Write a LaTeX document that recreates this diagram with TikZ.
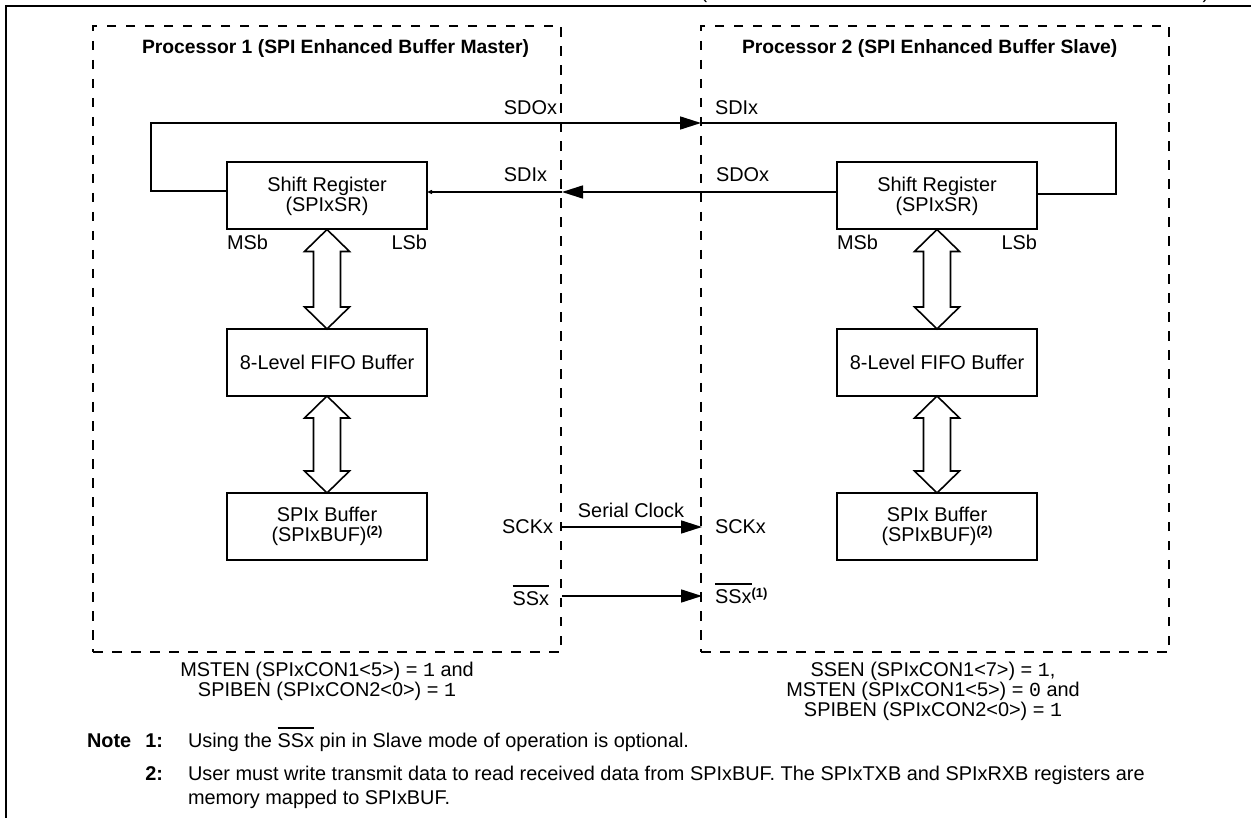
\documentclass[tikz,border=0pt]{standalone}
\usepackage{fontspec}
\setmainfont{Liberation Sans}
\setmonofont{Liberation Mono}
\usetikzlibrary{arrows.meta}
\newcommand\dblarrow[2]{%
  \draw[dbl] (#1) -- ([shift={(22.5,22)}]#1) -- ([shift={(13.5,22)}]#1)
    -- ([shift={(13.5,-22)}]#2) -- ([shift={(22.5,-22)}]#2) -- (#2)
    -- ([shift={(-22.5,-22)}]#2) -- ([shift={(-13.5,-22)}]#2)
    -- ([shift={(-13.5,22)}]#1) -- ([shift={(-22.5,22)}]#1) -- cycle;}
\newcommand\ovbar[1]{\leavevmode\vbox{\hrule height 1.6pt\kern 4.2pt\hbox{#1}}}
\newcommand\supnote[1]{\raisebox{6pt}{\fontsize{13}{13}\selectfont\bfseries(#1)}}
\begin{document}
\begin{tikzpicture}[x=1pt,y=-1pt,
  every node/.style={inner sep=0pt,outer sep=0pt,font=\fontsize{19.9}{20}\selectfont},
  frame/.style={line width=2pt},
  procbox/.style={draw,line width=1.8pt,dash pattern=on 9.5pt off 9.5pt,minimum width=468pt,minimum height=626pt},
  blk/.style={draw,line width=2pt,minimum width=200pt,minimum height=67pt,align=center},
  conn/.style={line width=1.6pt},
  bigtip/.style={-{Triangle[length=21pt,width=13pt]}},
  smalltip/.style={-{Triangle[length=5pt,width=4pt]}},
  dbl/.style={draw,line width=1.6pt,fill=white,line join=miter},
  ttl/.style={font=\fontsize{19.3}{20}\selectfont\bfseries},
  nb/.style={font=\fontsize{19.9}{20}\selectfont\bfseries}]
\useasboundingbox (0,0) rectangle (1251,818);
\clip (0,0) rectangle (1251,818);
% partial title above the frame
\node[anchor=south] (tpl) at (704,3) {(};
\node[anchor=south] (tpr) at (1206,3) {)};
% outer frame
\draw[frame] (6,818) -- (6,6) -- (1251,6);
% processor boxes
\node[procbox] (p1) at (327,339) {};
\node[procbox] (p2) at (935,339) {};
\node[ttl,anchor=base west] (t1) at (142,54) {Processor 1 (SPI Enhanced Buffer Master)};
\node[ttl,anchor=base west] (t2) at (742,54) {Processor 2 (SPI Enhanced Buffer Slave)};
% blocks
\node[blk] (sr1) at (327,196) {Shift Register\\(SPIxSR)};
\node[blk] (fifo1) at (327,362.5) {8-Level FIFO Buffer};
\node[blk] (buf1) at (327,526.5) {SPIx Buffer\\(SPIxBUF)\supnote{2}};
\node[blk] (sr2) at (937,196) {Shift Register\\(SPIxSR)};
\node[blk] (fifo2) at (937,362.5) {8-Level FIFO Buffer};
\node[blk] (buf2) at (937,526.5) {SPIx Buffer\\(SPIxBUF)\supnote{2}};
\node[anchor=base west] (msb1) at (227,250) {MSb};
\node[anchor=base east] (lsb1) at (427,250) {LSb};
\node[anchor=base west] (msb2) at (837,250) {MSb};
\node[anchor=base east] (lsb2) at (1037,250) {LSb};
% double arrows
\dblarrow{sr1.south}{fifo1.north}
\dblarrow{fifo1.south}{buf1.north}
\dblarrow{sr2.south}{fifo2.north}
\dblarrow{fifo2.south}{buf2.north}
% SDO -> SDI loop
\coordinate (tl) at (151,123);
\coordinate (tr) at (1116,123);
\draw[conn,bigtip] ([yshift=5pt]sr1.west) -| (tl) -- (tl -| p2.west);
\draw[conn] (tl -| p2.west) -- (tr) |- ([yshift=2pt]sr2.east);
\node[anchor=base east] (sdo1) at (557,115) {SDOx};
\node[anchor=base west] (sdi2) at (715,115) {SDIx};
% SDO slave -> SDI master
\coordinate (mi) at (562,192);
\draw[conn,bigtip] ([yshift=4pt]sr2.west) -- (mi);
\draw[conn,smalltip] (mi) -- ([yshift=4pt]sr1.east);
\node[anchor=base east] (sdi1) at (547,182) {SDIx};
\node[anchor=base west] (sdo2) at (716,182) {SDOx};
% serial clock
\coordinate (ckl) at (562,527);
\coordinate (ckr) at (702,527);
\draw[conn,bigtip] (ckl) -- (ckr);
\node[anchor=base] (sclk) at (631,517) {Serial Clock};
\node[anchor=base east] (sck1) at (553,533) {SCKx};
\node[anchor=base west] (sck2) at (715,533) {SCKx};
% slave select
\coordinate (ssl) at (562,596);
\coordinate (ssr) at (702,596);
\draw[conn,bigtip] (ssl) -- (ssr);
\node[anchor=base east] (ss1) at (549,605) {\ovbar{SSx}};
\node[anchor=base west] (ss2) at (715,603) {\ovbar{SSx}\supnote{1}};
% conditions
\node[anchor=base] (c1a) at (327,676) {MSTEN (SPIxCON1<5>) = \texttt{1} and};
\node[anchor=base] (c1b) at (327,696) {SPIBEN (SPIxCON2<0>) = \texttt{1}};
\node[anchor=base] (c2a) at (933,676) {SSEN (SPIxCON1<7>) = \texttt{1},};
\node[anchor=base] (c2b) at (933,696) {MSTEN (SPIxCON1<5>) = \texttt{0} and};
\node[anchor=base] (c2c) at (933,716) {SPIBEN (SPIxCON2<0>) = \texttt{1}};
% notes
\node[nb,anchor=base west] (nt) at (87,747) {Note};
\node[nb,anchor=base east] (n1) at (163,747) {1:};
\node[anchor=base west] (n1t) at (188,747) {Using the \ovbar{SSx} pin in Slave mode of operation is optional.};
\node[nb,anchor=base east] (n2) at (163,780) {2:};
\node[anchor=base west] (n2t) at (188,780) {User must write transmit data to read received data from SPIxBUF. The SPIxTXB and SPIxRXB registers are};
\node[anchor=base west] (n2u) at (188,804) {memory mapped to SPIxBUF.};
\end{tikzpicture}
\end{document}
